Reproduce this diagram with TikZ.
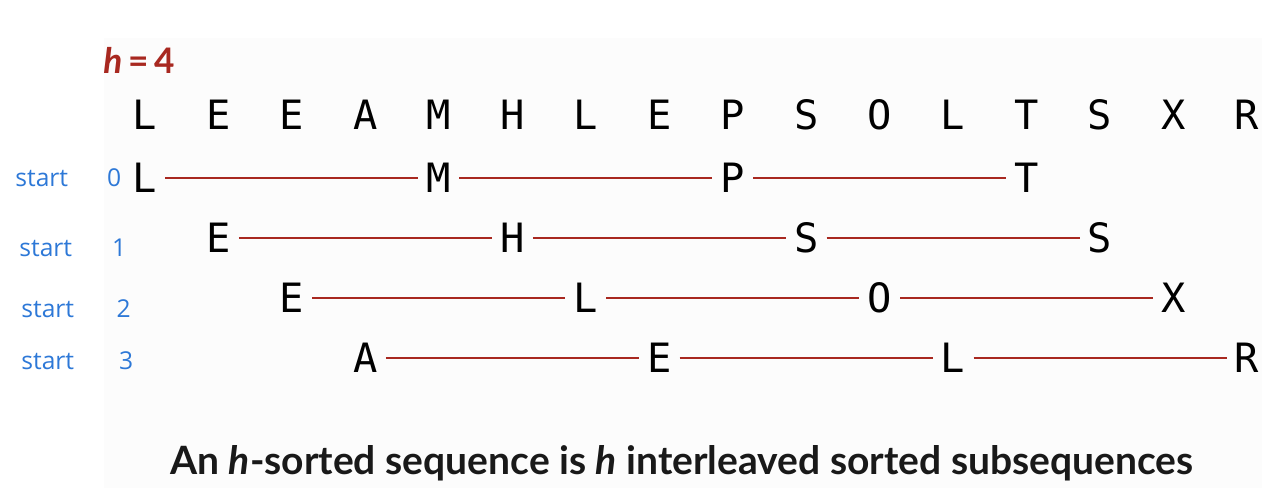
\documentclass[tikz,border=0pt]{standalone}
\usepackage{fontspec}
\setmainfont{Lato}
\newfontfamily\keyfont{DejaVu Sans Mono}
\newfontfamily\handfont{Open Sans}
\usetikzlibrary{positioning}
\definecolor{seqred}{RGB}{168,40,32}
\definecolor{penblue}{RGB}{45,120,215}

\begin{document}
\begin{tikzpicture}[
  key/.style={font=\keyfont\fontsize{23}{23}\selectfont,inner sep=4.5pt},
  link/.style={draw=seqred,line width=1.1pt},
  note/.style={font=\handfont\fontsize{14}{14}\selectfont,text=penblue,anchor=west,inner sep=0pt},
  title/.style={font=\bfseries\fontsize{22.2}{22.2}\selectfont,text=black!90}
]
  \useasboundingbox (0,0) rectangle (25.6,-9.88);
  \fill[black!1] (2.08,-0.76) rectangle (25.24,-9.76);

  \node[font=\bfseries\fontsize{20}{20}\selectfont,text=seqred] (hval) at (2.78,-1.2)
    {\textit{h}\,=\,4};

  % the input sequence
  \node[key] (t0) at (2.90,-2.30) {L};
  \node[key] (t1) at (4.369,-2.30) {E};
  \node[key] (t2) at (5.839,-2.30) {E};
  \node[key] (t3) at (7.308,-2.30) {A};
  \node[key] (t4) at (8.778,-2.30) {M};
  \node[key] (t5) at (10.247,-2.30) {H};
  \node[key] (t6) at (11.716,-2.30) {L};
  \node[key] (t7) at (13.186,-2.30) {E};
  \node[key] (t8) at (14.655,-2.30) {P};
  \node[key] (t9) at (16.125,-2.30) {S};
  \node[key] (t10) at (17.594,-2.30) {O};
  \node[key] (t11) at (19.063,-2.30) {L};
  \node[key] (t12) at (20.533,-2.30) {T};
  \node[key] (t13) at (22.002,-2.30) {S};
  \node[key] (t14) at (23.472,-2.30) {X};
  \node[key] (t15) at (24.941,-2.30) {R};

  % subsequence from 0
  \node[key] (ra0) at (2.90,-3.56) {L};
  \node[key] (ra4) at (8.778,-3.56) {M};
  \node[key] (ra8) at (14.655,-3.56) {P};
  \node[key] (ra12) at (20.533,-3.56) {T};
  \draw[link] (ra0) -- (ra4);
  \draw[link] (ra4) -- (ra8);
  \draw[link] (ra8) -- (ra12);

  % subsequence from 1
  \node[key] (rb1) at (4.369,-4.76) {E};
  \node[key] (rb5) at (10.247,-4.76) {H};
  \node[key] (rb9) at (16.125,-4.76) {S};
  \node[key] (rb13) at (22.002,-4.76) {S};
  \draw[link] (rb1) -- (rb5);
  \draw[link] (rb5) -- (rb9);
  \draw[link] (rb9) -- (rb13);

  % subsequence from 2
  \node[key] (rc2) at (5.839,-5.96) {E};
  \node[key] (rc6) at (11.716,-5.96) {L};
  \node[key] (rc10) at (17.594,-5.96) {O};
  \node[key] (rc14) at (23.472,-5.96) {X};
  \draw[link] (rc2) -- (rc6);
  \draw[link] (rc6) -- (rc10);
  \draw[link] (rc10) -- (rc14);

  % subsequence from 3
  \node[key] (rd3) at (7.308,-7.16) {A};
  \node[key] (rd7) at (13.186,-7.16) {E};
  \node[key] (rd11) at (19.063,-7.16) {L};
  \node[key] (rd15) at (24.941,-7.16) {R};
  \draw[link] (rd3) -- (rd7);
  \draw[link] (rd7) -- (rd11);
  \draw[link] (rd11) -- (rd15);

  \node[note] (s0) at (0.30,-3.56) {start\hspace{0.78cm}0};
  \node[note] (s1) at (0.38,-4.96) {start\hspace{0.8cm}1};
  \node[note] (s2) at (0.42,-6.18) {start\hspace{0.85cm}2};
  \node[note] (s3) at (0.42,-7.22) {start\hspace{0.9cm}3};

  \node[title] (cap) at (13.64,-9.26)
    {An \textit{h}-sorted sequence is \textit{h} interleaved sorted subsequences};
\end{tikzpicture}
\end{document}
